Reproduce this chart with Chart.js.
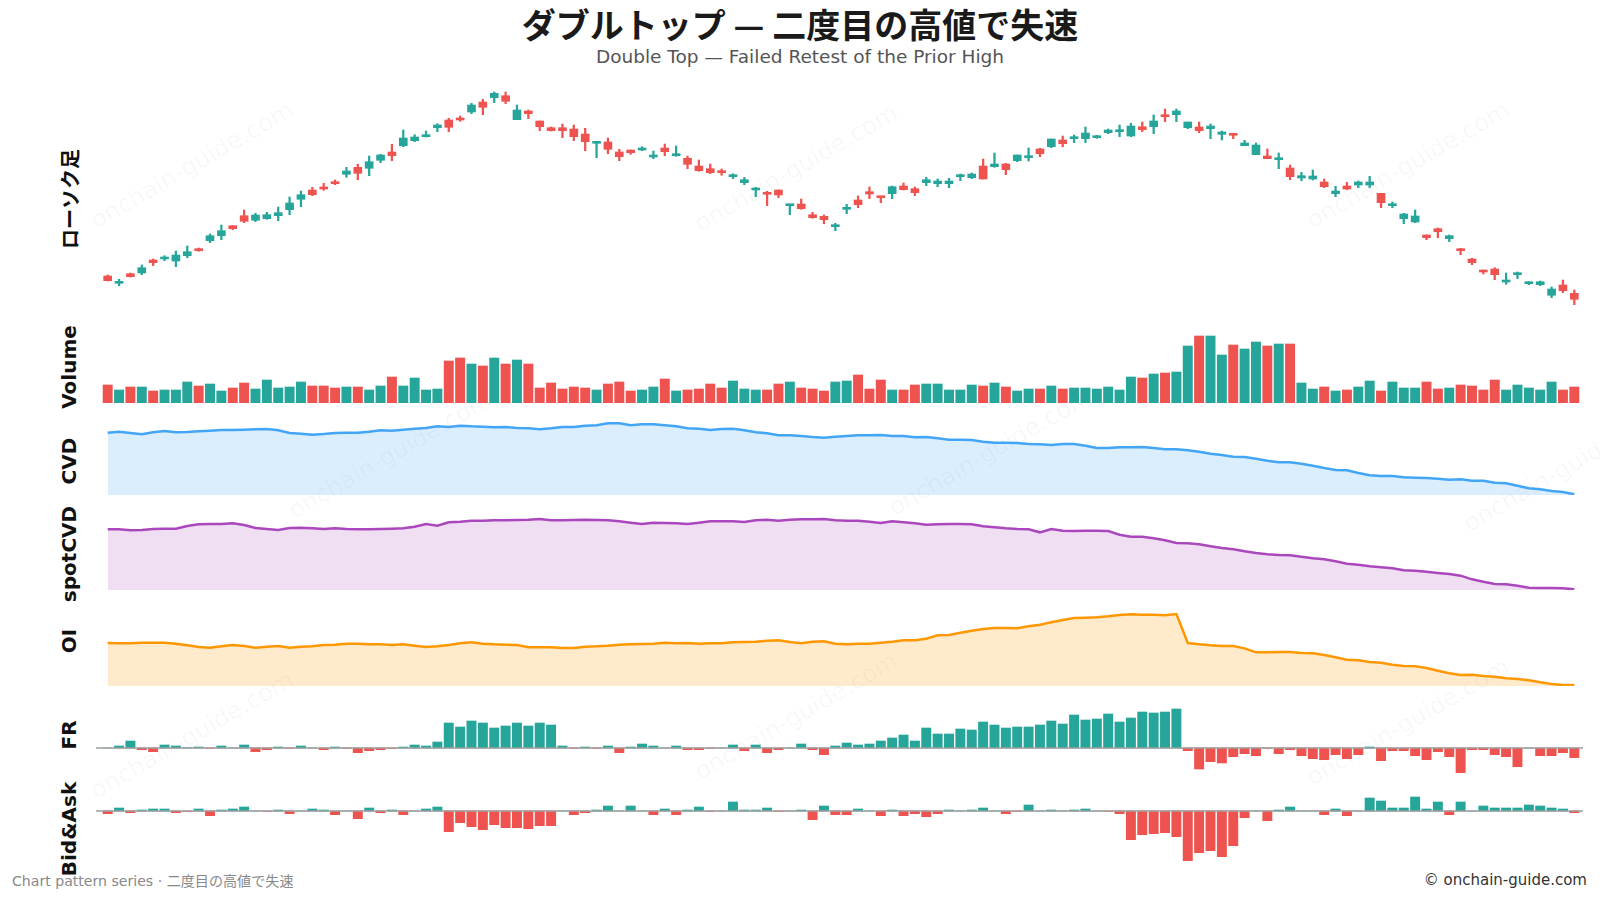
<!DOCTYPE html>
<html>
<head>
<meta charset="utf-8">
<script src="https://cdn.jsdelivr.net/npm/chart.js@4.4.0/dist/chart.umd.min.js"></script>
<style>
  body { margin: 0; width: 1600px; height: 900px; background: #fff; position: relative; overflow: hidden; }
  canvas { position: absolute; left: 90px; }
  .title { position: absolute; left: 0; width: 1600px; text-align: center; }
  .label { position: absolute; left: 69px; transform: translate(-50%, -50%) rotate(-90deg); font: bold 20px "DejaVu Sans", "Noto Sans CJK JP", sans-serif; color: #111; white-space: nowrap; }
  .wm { position: absolute; transform: translate(-50%, -50%) rotate(-30deg); font: 24px "DejaVu Sans", sans-serif; color: rgba(0,0,0,0.035); white-space: nowrap; }
</style>
</head>
<body>
<div class="wm" style="left:192px;top:165px">onchain-guide.com</div>
<div class="wm" style="left:796px;top:168px">onchain-guide.com</div>
<div class="wm" style="left:1408px;top:165px">onchain-guide.com</div>
<div class="wm" style="left:390px;top:455px">onchain-guide.com</div>
<div class="wm" style="left:990px;top:452px">onchain-guide.com</div>
<div class="wm" style="left:1565px;top:468px">onchain-guide.com</div>
<div class="wm" style="left:192px;top:735px">onchain-guide.com</div>
<div class="wm" style="left:796px;top:716px">onchain-guide.com</div>
<div class="wm" style="left:1408px;top:722px">onchain-guide.com</div>

<div class="title" style="top:-1px; font: bold 34px 'Noto Sans CJK JP', sans-serif; color:#1a1a1a;">ダブルトップ — 二度目の高値で失速</div>
<div class="title" style="top:46px; font: 18.5px 'DejaVu Sans', sans-serif; color:#555;">Double Top — Failed Retest of the Prior High</div>

<div class="label" style="top:199px; font-family:'Noto Sans CJK JP', sans-serif;">ローソク足</div>
<div class="label" style="top:367px">Volume</div>
<div class="label" style="top:461px">CVD</div>
<div class="label" style="top:554px">spotCVD</div>
<div class="label" style="top:641px">OI</div>
<div class="label" style="top:735px">FR</div>
<div class="label" style="top:829px">Bid&amp;Ask</div>

<canvas id="candles" width="1500" height="220" style="top:88px"></canvas>
<canvas id="volume" width="1500" height="70" style="top:333px"></canvas>
<canvas id="cvd" width="1500" height="75" style="top:420px"></canvas>
<canvas id="spot" width="1500" height="80" style="top:510px"></canvas>
<canvas id="oi" width="1500" height="86" style="top:600px"></canvas>
<canvas id="fr" width="1500" height="80" style="top:700px"></canvas>
<canvas id="bidask" width="1500" height="75" style="top:790px"></canvas>

<div style="position:absolute; left:12px; top:870px; font: 14.1px 'DejaVu Sans', 'Noto Sans CJK JP', sans-serif; color:#888;">Chart pattern series · 二度目の高値で失速</div>
<div style="position:absolute; right:13px; top:871px; font: 15px 'DejaVu Sans', sans-serif; color:#333;">© onchain-guide.com</div>

<script>
// OHLC (arbitrary price units)
const open = [144.0,136.7,146.3,147.0,160.0,161.0,159.0,164.3,171.0,179.3,
  184.3,194.3,204.3,199.7,201.3,204.3,210.3,220.7,230.0,232.7,
  238.3,245.7,252.7,251.7,259.7,268.0,274.3,279.3,283.3,292.3,
  300.0,301.3,308.0,318.0,322.3,324.3,300.3,309.0,299.0,292.3,
  292.3,291.0,286.0,276.7,278.0,268.0,270.0,270.0,263.0,272.0,
  264.3,261.7,254.0,251.3,249.3,243.3,237.3,230.0,227.3,230.0,
  214.3,216.0,205.3,203.7,193.3,210.7,220.0,228.3,223.3,226.3,
  234.0,231.3,237.3,236.3,236.3,243.3,242.3,254.0,253.3,256.0,
  259.3,262.3,271.0,273.3,280.0,281.3,281.3,282.3,287.3,288.3,
  284.0,293.3,293.3,305.3,305.3,292.3,293.0,291.3,285.7,286.0,
  274.3,265.3,264.0,260.3,252.0,242.0,241.0,238.0,226.3,234.0,
  235.0,235.0,226.7,214.3,201.3,198.0,185.0,191.3,181.3,171.0,
  161.0,150.0,151.0,138.0,145.3,136.3,135.3,124.7,135.0,126.7];
const high = [145,140.7,147,155,161,164.3,169,174,172,186,
  195,194.3,210,206.7,207.7,213,223,229,232.7,236.7,
  240,252.7,255.7,264,265.7,275.7,290,285.3,289,296.3,
  301.7,304,316.7,320.7,328,328,315,310,299,293,
  296,295,291.7,277.7,282,270.7,270,273.3,269,276,
  274,264,260,256,251,246.3,242.7,232.7,228.7,230,
  215,221,207.7,205,196.7,215.7,224,233,223.3,234,
  237,233,242.7,241,241.7,246,247,261,267,256.7,
  265,272,271.7,281,284,285,293,284.7,291,295,
  296.7,298,305,311,311,298,298,296,289,286,
  279.7,277,271,267,255,247.7,250,241,233.7,237.7,
  239,243.7,226.7,218,206.7,210,185,192,185,171.7,
  161.7,150,152.3,147,148,138.3,139,133,140,130];
const low = [139,134.3,143,145.3,154.3,159.3,153.3,162.3,168.7,177.3,
  180.3,190.3,197.3,198.3,200.7,199.3,205.3,213.3,224.3,229.7,
  235.3,242.7,240.3,244.3,257.3,259.3,273.3,278.3,283,288.3,
  288.3,298.7,306.3,305.3,317.3,316.3,300.3,301.3,289.3,289,
  282.3,279.3,269.3,262.3,266.3,259.3,265.7,269.3,261.3,264.3,
  263.7,251.3,248.7,246.3,244.7,241.3,235.3,223.3,214.3,222.3,
  205.3,210.7,201.7,196.3,189.3,206.3,212.3,221.3,217.3,221.3,
  230,224.3,234.3,233.3,232.3,239.3,241.3,241,252.7,245.3,
  258.3,259,263.3,272.3,273.3,277.3,277.3,281.7,286.3,283.3,
  283.3,288.3,286.3,298.3,298.3,291.3,287.3,281.3,280,281.3,
  274.3,265.3,261.3,251.3,240.3,239.3,240,232.3,223.3,230.3,
  232.3,232.3,212.3,212.3,196.3,197.3,180.3,182.3,178.3,165.3,
  155.3,146,140.3,135.7,141.3,135.3,134.3,122.3,127.3,115.3];
const close = [139.3,138.0,143.3,152.3,157.3,162.7,165.0,168.3,169.3,184.3,
  189.3,191.3,198.7,205.0,205.3,207.3,217.0,225.3,225.3,231.0,
  236.3,249.0,246.7,258.3,265.0,264.3,282.0,283.0,285.0,295.0,
  292.7,300.0,315.0,312.7,326.7,318.7,310.0,306.3,293.3,289.3,
  289.3,283.3,278.3,277.7,270.7,263.3,267.3,271.0,265.0,268.3,
  266.0,255.7,249.3,247.3,247.3,245.0,240.3,231.0,225.7,225.0,
  215.0,211.3,202.3,200.3,195.3,211.7,215.3,226.0,222.3,233.3,
  230.3,227.3,240.3,239.0,239.0,245.0,246.0,241.0,256.0,250.3,
  265.0,263.3,266.3,281.0,276.3,282.7,287.0,284.0,290.0,290.0,
  294.0,290.3,299.0,303.3,309.0,298.0,289.3,294.0,288.0,284.7,
  277.0,275.0,261.3,262.0,243.3,244.3,244.0,233.3,229.0,231.0,
  238.0,238.0,217.3,216.0,206.0,204.0,182.3,188.3,184.3,169.3,
  157.3,148.0,145.3,140.0,147.3,138.0,138.3,131.0,129.3,120.7];

const volume = [540,390,480,480,360,390,390,630,510,570,
  360,450,600,420,690,450,480,630,510,510,
  450,480,480,390,510,780,510,750,390,420,
  1260,1350,1170,1110,1350,1170,1290,1170,450,600,
  420,480,450,390,570,630,360,390,480,720,
  360,390,420,570,450,660,420,390,390,570,
  630,450,420,360,630,660,840,420,690,390,
  390,540,570,570,390,390,540,510,600,480,
  360,420,420,510,420,450,450,420,480,390,
  780,750,870,900,930,1710,2010,2010,1440,1740,
  1620,1830,1710,1770,1770,600,420,480,360,390,
  480,660,360,630,450,450,630,420,450,540,
  510,390,690,390,540,450,390,630,390,480];

const cvd = [217,220,216,212,218,222,218,219,221,223,
  225,225,226,227,228,224,216,214,211,213,
  216,217,217,220,224,223,226,229,231,236,
  234,238,236,235,233,234,231,230,227,230,
  234,234,238,239,245,245,239,242,242,239,
  236,230,229,225,228,229,224,218,215,209,
  209,207,204,202,205,207,209,209,210,207,
  207,203,204,200,196,196,195,190,187,187,
  186,183,182,180,183,183,178,171,171,173,
  173,174,171,167,167,164,160,154,150,145,
  144,139,133,128,128,124,118,111,105,104,
  96,89,87,87,83,82,81,79,76,77,
  73,73,67,65,58,50,47,42,39,32];

const spotCvd = [227,227,224,225,228,229,229,237,242,243,
  243,245,240,231,228,225,231,232,230,228,
  230,228,227,227,228,229,230,235,243,238,
  248,250,253,253,254,254,255,256,258,254,
  254,255,256,255,254,251,247,243,247,246,
  245,243,247,251,251,251,249,254,256,253,
  256,257,257,258,254,253,253,250,246,251,
  248,245,241,242,243,243,242,236,233,230,
  228,227,218,228,223,222,223,223,222,211,
  205,205,200,194,186,185,182,176,171,167,
  161,156,152,150,149,145,140,137,131,124,
  121,116,113,110,104,103,100,96,93,88,
  77,70,63,62,58,52,51,51,50,47];

const oi = [186,185,185,187,187,187,184,179,174,172,
  176,180,177,172,175,177,172,175,176,180,
  181,184,184,182,182,180,182,178,174,176,
  180,185,188,184,182,181,180,173,173,173,
  171,171,175,176,178,181,182,183,184,187,
  185,186,184,185,185,188,189,190,193,194,
  189,185,190,191,184,182,184,184,187,190,
  194,194,199,209,210,217,223,228,231,231,
  230,236,241,248,255,261,262,263,266,270,
  272,271,271,269,273,186,182,179,177,177,
  170,158,158,159,159,156,155,150,143,136,
  134,129,127,121,117,116,111,103,95,90,
  91,87,85,80,78,74,68,63,60,60];

// funding rate, in 0.0001 % steps
const fr = [0,6,21,-5,-11,9,6,1,3,-1,
  6,0,9,-11,-5,3,-1,6,0,-5,
  3,-1,-14,-8,-5,-1,3,9,6,18,
  75,63,81,75,60,66,75,66,75,69,
  6,-1,3,-1,6,-14,3,12,6,0,
  6,-5,-5,-1,0,9,-8,9,-14,-5,
  0,12,-5,-20,6,15,9,12,21,30,
  39,21,60,42,42,57,54,78,69,60,
  63,63,69,81,72,99,84,87,102,78,
  90,108,105,108,117,-8,-63,-41,-45,-26,
  -17,-23,-1,-17,-5,-23,-32,-35,-20,-32,
  -20,3,-38,-8,-8,-23,-35,-11,-26,-74,
  -5,-5,-20,-26,-56,0,-23,-23,-14,-29];

const bidAsk = [-8,9,-5,3,6,6,-5,-1,6,-14,
  3,6,12,0,-1,3,-8,0,6,3,
  -11,0,-23,9,-5,3,-11,0,6,12,
  -62,-35,-47,-56,-41,-50,-50,-53,-44,-44,
  0,-11,-5,3,15,0,15,0,-11,6,
  -11,3,12,-1,0,27,3,3,9,-1,
  0,3,-26,15,-11,-11,6,0,-14,3,
  -14,-8,-17,-8,3,0,3,9,0,-8,
  -1,18,0,3,0,3,6,0,-1,-8,
  -86,-71,-68,-65,-77,-149,-125,-119,-137,-104,
  -20,0,-29,3,12,0,0,-11,6,-14,
  0,39,30,9,9,42,6,27,-11,27,
  0,15,9,9,9,18,15,9,6,-5];

const bars = open.map((_, i) => String(i + 1));

const UP = '#26a69a';
const DOWN = '#ef5350';
const candleColors = close.map((c, i) => c >= open[i] ? UP : DOWN);
const signColors = arr => arr.map(v => v >= 0 ? UP : DOWN);

const zeroLine = {
  id: 'zeroLine',
  afterDatasetsDraw(chart) {
    const { ctx, chartArea, scales } = chart;
    const y = scales.y.getPixelForValue(0);
    ctx.save();
    ctx.strokeStyle = '#9e9e9e';
    ctx.lineWidth = 1.5;
    ctx.beginPath();
    ctx.moveTo(chartArea.left - 6, y);
    ctx.lineTo(chartArea.right + 3, y);
    ctx.stroke();
    ctx.restore();
  }
};

const panelOptions = (min, max) => ({
  responsive: false,
  animation: false,
  events: [],
  layout: { padding: { left: 12, right: 10, top: 0, bottom: 0 } },
  plugins: { legend: { display: false }, tooltip: { enabled: false } },
  scales: {
    x: { display: false, offset: true },
    y: { display: false, min: min, max: max }
  }
});

new Chart(document.getElementById('candles'), {
  type: 'bar',
  data: {
    labels: bars,
    datasets: [
      {
        data: open.map((o, i) => [o, close[i]]),
        backgroundColor: candleColors,
        barThickness: 8,
        minBarLength: 2,
        grouped: false
      },
      {
        data: low.map((l, i) => [l, high[i]]),
        backgroundColor: candleColors,
        barThickness: 1.6,
        grouped: false
      }
    ]
  },
  options: panelOptions(112, 332)
});

new Chart(document.getElementById('volume'), {
  type: 'bar',
  data: {
    labels: bars,
    datasets: [{ data: volume, backgroundColor: candleColors, barThickness: 9.3 }]
  },
  options: panelOptions(0, 2100)
});

const areaChart = (id, values, line, fill, min, max) => new Chart(document.getElementById(id), {
  type: 'line',
  data: {
    labels: bars,
    datasets: [{
      data: values,
      borderColor: line,
      backgroundColor: fill,
      borderWidth: 2.5,
      pointRadius: 0,
      tension: 0,
      fill: 'start'
    }]
  },
  options: panelOptions(min, max)
});

areaChart('cvd', cvd, '#42a5f5', 'rgba(66,165,245,0.19)', 30, 255);
areaChart('spot', spotCvd, '#ab47bc', 'rgba(171,71,188,0.18)', 45, 285);
areaChart('oi', oi, '#ff9800', 'rgba(255,152,0,0.2)', 57, 315);

new Chart(document.getElementById('fr'), {
  type: 'bar',
  data: {
    labels: bars,
    datasets: [{ data: fr, backgroundColor: signColors(fr), barThickness: 9.3 }]
  },
  options: panelOptions(-96, 144),
  plugins: [zeroLine]
});

new Chart(document.getElementById('bidask'), {
  type: 'bar',
  data: {
    labels: bars,
    datasets: [{ data: bidAsk, backgroundColor: signColors(bidAsk), barThickness: 9.3 }]
  },
  options: panelOptions(-162, 63),
  plugins: [zeroLine]
});
</script>
</body>
</html>
